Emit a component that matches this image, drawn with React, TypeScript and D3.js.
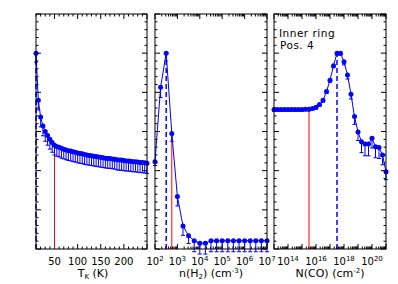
import React, { useEffect, useRef } from 'react';
import * as d3 from 'd3';

// panel 1: kinetic temperature (K)
const tkGrid = [10, 15, 20, 25, 30, 35, 40, 45, 50, 55, 60, 65, 70, 75, 80, 85, 90, 95, 100,
    105, 110, 115, 120, 125, 130, 135, 140, 145, 150, 155, 160, 165, 170, 175, 180, 185, 190,
    195, 200, 205, 210, 215, 220, 225, 230, 235, 240, 245, 250];
const tkProb = [5.0, 3.8, 3.37, 3.14, 3.0, 2.9, 2.8, 2.72, 2.65, 2.62, 2.6, 2.57, 2.55, 2.53,
    2.51, 2.5, 2.48, 2.47, 2.45, 2.44, 2.43, 2.41, 2.4, 2.39, 2.38, 2.37, 2.36, 2.35, 2.34,
    2.33, 2.32, 2.31, 2.31, 2.3, 2.29, 2.28, 2.27, 2.27, 2.26, 2.25, 2.25, 2.24, 2.23, 2.23,
    2.22, 2.21, 2.21, 2.2, 2.19];
const tkErr = [0.23, 0.25, 0.25, 0.25, 0.25, 0.25, 0.25, 0.25, 0.25, 0.25, 0.25, 0.25, 0.25,
    0.25, 0.25, 0.25, 0.25, 0.25, 0.25, 0.25, 0.25, 0.25, 0.25, 0.25, 0.25, 0.25, 0.25, 0.25,
    0.25, 0.25, 0.25, 0.25, 0.25, 0.25, 0.25, 0.26, 0.26, 0.26, 0.26, 0.26, 0.26, 0.26, 0.26,
    0.26, 0.26, 0.26, 0.26, 0.26, 0.26];
const tkTicks = [50, 100, 150, 200];

// panel 2: log10 n(H2)
const nhExp = [2, 2.25, 2.5, 2.75, 3, 3.25, 3.5, 3.75, 4, 4.25, 4.5, 4.75, 5, 5.25, 5.5,
    5.75, 6, 6.25, 6.5, 6.75, 7];
const nhProb = [2.23, 4.13, 5.0, 2.95, 1.34, 0.59, 0.34, 0.21, 0.15, 0.15, 0.21, 0.21, 0.21,
    0.21, 0.21, 0.21, 0.21, 0.21, 0.21, 0.21, 0.21];
const nhErr = [0.1, 0.26, 0.2, 0.2, 0.24, 0.24, 0.2, 0.28, 0.28, 0.28, 0.28, 0.28, 0.28, 0.28,
    0.28, 0.28, 0.28, 0.28, 0.28, 0.28, 0.28];
const nhTicks = [2, 3, 4, 5, 6, 7];

// panel 3: log10 N(CO)
const ncoExp = [13, 13.25, 13.5, 13.75, 14, 14.25, 14.5, 14.75, 15, 15.25, 15.5, 15.75, 16,
    16.25, 16.5, 16.75, 17, 17.25, 17.5, 17.75, 18, 18.25, 18.5, 18.75, 19, 19.25, 19.5,
    19.75, 20, 20.25, 20.5, 20.75, 21];
const ncoProb = [3.56, 3.56, 3.56, 3.56, 3.56, 3.56, 3.56, 3.56, 3.56, 3.57, 3.57, 3.59, 3.62,
    3.69, 3.8, 4.02, 4.31, 4.68, 5.0, 5.0, 4.78, 4.44, 3.95, 3.38, 2.99, 2.74, 2.68, 2.68,
    2.83, 2.61, 2.59, 2.4, 1.97];
const ncoErr = [0.04, 0.04, 0.04, 0.04, 0.04, 0.04, 0.04, 0.04, 0.04, 0.04, 0.04, 0.04, 0.05,
    0.05, 0.05, 0.05, 0.05, 0.05, 0.05, 0.05, 0.08, 0.1, 0.12, 0.2, 0.22, 0.28, 0.3, 0.3,
    0.25, 0.28, 0.28, 0.25, 0.2];
const ncoTicks = [14, 16, 18, 20];

const BLUE = '#0000ff';
const RED = '#ff0000';
const FONT = 'DejaVu Sans, sans-serif';

const App = () => {
    const ref = useRef<SVGSVGElement>(null);

    useEffect(() => {
        const svg = d3.select(ref.current);
        svg.selectAll('*').remove();

        const top = 14, bottom = 249;
        const y = d3.scaleLinear().domain([0, 6]).range([bottom, top]);

        const panels = [
            {
                x: d3.scaleLinear().domain([10, 250]).range([36, 147]),
                log: false,
                xs: tkGrid, ys: tkProb, err: tkErr,
                best: 10, red: 50, redVal: 2.65,
                ticks: tkTicks,
            },
            {
                x: d3.scaleLog().domain([1e2, 1e7]).range([155, 267]),
                log: true,
                xs: nhExp.map(e => Math.pow(10, e)), ys: nhProb, err: nhErr,
                best: Math.pow(10, 2.5), red: Math.pow(10, 2.75), redVal: 2.95,
                ticks: nhTicks,
            },
            {
                x: d3.scaleLog().domain([1e13, 1e21]).range([274, 386]),
                log: true,
                xs: ncoExp.map(e => Math.pow(10, e)), ys: ncoProb, err: ncoErr,
                best: Math.pow(10, 17.5), red: Math.pow(10, 15.5), redVal: 3.57,
                ticks: ncoTicks,
            },
        ];

        panels.forEach(p => {
            const [x0, x1] = p.x.range();
            const g = svg.append('g');

            // y ticks, both sides
            const yMinor = d3.range(0, 6.001, 0.2);
            yMinor.forEach((v, i) => {
                const len = i % 5 === 0 ? 5 : 2.5;
                const yy = y(v);
                g.append('line').attr('x1', x0).attr('x2', x0 + len).attr('y1', yy).attr('y2', yy)
                    .attr('stroke', '#000').attr('stroke-width', 1);
                g.append('line').attr('x1', x1).attr('x2', x1 - len).attr('y1', yy).attr('y2', yy)
                    .attr('stroke', '#000').attr('stroke-width', 1);
            });

            // x ticks, top and bottom
            const xt: { v: number, len: number }[] = [];
            if (!p.log) {
                d3.range(10, 251, 10).forEach(v => xt.push({ v, len: v % 50 === 0 ? 5 : 2.5 }));
            } else {
                const [d0, d1] = p.x.domain().map(v => Math.round(Math.log10(v)));
                for (let d = d0; d <= d1; d++) {
                    xt.push({ v: Math.pow(10, d), len: 5 });
                    if (d < d1) for (let m = 2; m <= 9; m++) xt.push({ v: m * Math.pow(10, d), len: 2.5 });
                }
            }
            xt.forEach(t => {
                const xx = p.x(t.v);
                g.append('line').attr('x1', xx).attr('x2', xx).attr('y1', bottom).attr('y2', bottom - t.len)
                    .attr('stroke', '#000').attr('stroke-width', 1);
                g.append('line').attr('x1', xx).attr('x2', xx).attr('y1', top).attr('y2', top + t.len)
                    .attr('stroke', '#000').attr('stroke-width', 1);
            });

            // tick labels
            p.ticks.forEach(t => {
                const txt = g.append('text')
                    .attr('y', 265)
                    .attr('text-anchor', 'middle')
                    .style('font-family', FONT)
                    .style('font-size', '10px')
                    .attr('fill', '#000');
                if (!p.log) {
                    txt.attr('x', p.x(t)).text(String(t));
                } else {
                    txt.attr('x', p.x(Math.pow(10, t)));
                    txt.append('tspan').text('10');
                    txt.append('tspan').attr('dy', -4).style('font-size', '7px').text(String(t));
                }
            });

            // best-fit dashed and red lines
            g.append('line')
                .attr('x1', p.x(p.best)).attr('x2', p.x(p.best))
                .attr('y1', bottom).attr('y2', y(5.0))
                .attr('stroke', BLUE).attr('stroke-width', 1.5)
                .attr('stroke-dasharray', '5,3');
            g.append('line')
                .attr('x1', p.x(p.red)).attr('x2', p.x(p.red))
                .attr('y1', bottom).attr('y2', y(p.redVal))
                .attr('stroke', RED).attr('stroke-width', 1);

            const pts = p.xs.map((xv, i) => ({ x: p.x(xv), y: y(p.ys[i]), lo: y(p.ys[i] - p.err[i]) }));

            g.append('path')
                .datum(pts)
                .attr('fill', 'none')
                .attr('stroke', BLUE)
                .attr('stroke-width', 1)
                .attr('d', d3.line<any>().x(d => d.x).y(d => d.y));

            g.selectAll('.err').data(pts).enter().append('path')
                .attr('class', 'err')
                .attr('fill', 'none')
                .attr('stroke', BLUE)
                .attr('stroke-width', 1)
                .attr('d', d => `M${d.x},${d.y}V${d.lo}M${d.x - 2},${d.lo}H${d.x + 2}`);

            g.selectAll('.pt').data(pts).enter().append('circle')
                .attr('class', 'pt')
                .attr('cx', d => d.x).attr('cy', d => d.y).attr('r', 2.5)
                .attr('fill', BLUE);

            g.append('rect')
                .attr('x', x0).attr('y', top).attr('width', x1 - x0).attr('height', bottom - top)
                .attr('fill', 'none').attr('stroke', '#000').attr('stroke-width', 1);
        });

        // axis titles
        const t1 = svg.append('text').attr('x', 93).attr('y', 277).attr('text-anchor', 'middle')
            .style('font-family', FONT).style('font-size', '11px');
        t1.append('tspan').text('T');
        t1.append('tspan').attr('dy', 2).style('font-size', '7px').text('K');
        t1.append('tspan').attr('dy', -2).text(' (K)');

        const t2 = svg.append('text').attr('x', 211).attr('y', 277).attr('text-anchor', 'middle')
            .style('font-family', FONT).style('font-size', '11px');
        t2.append('tspan').text('n(H');
        t2.append('tspan').attr('dy', 2).style('font-size', '7px').text('2');
        t2.append('tspan').attr('dy', -2).text(') (cm');
        t2.append('tspan').attr('dy', -4).style('font-size', '7px').text('-3');
        t2.append('tspan').attr('dy', 4).text(')');

        const t3 = svg.append('text').attr('x', 330).attr('y', 277).attr('text-anchor', 'middle')
            .style('font-family', FONT).style('font-size', '11px');
        t3.append('tspan').text('N(CO) (cm');
        t3.append('tspan').attr('dy', -4).style('font-size', '7px').text('-2');
        t3.append('tspan').attr('dy', 4).text(')');

        // source label
        svg.append('text').attr('x', 279).attr('y', 37)
            .style('font-family', FONT).style('font-size', '10.5px')
            .style('letter-spacing', '0.5px').text('Inner ring');
        svg.append('text').attr('x', 280).attr('y', 48.5)
            .style('font-family', FONT).style('font-size', '10.5px')
            .style('letter-spacing', '0.5px').text('Pos. 4');
    }, []);

    return (
        <svg ref={ref} width={398} height={284}
            style={{ position: 'fixed', left: 0, top: 0, background: '#fff' }} />
    );
};

export default App;
